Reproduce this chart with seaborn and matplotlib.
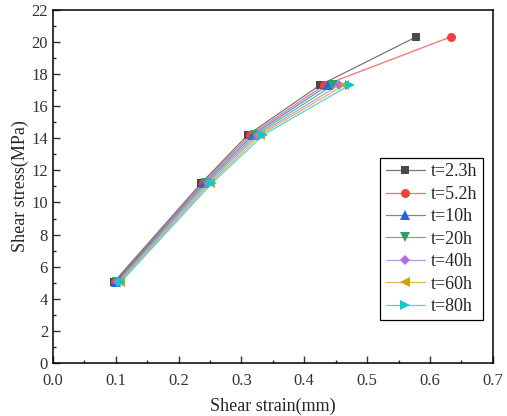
import numpy as np
import pandas as pd
import seaborn as sns
import matplotlib.pyplot as plt
from matplotlib.ticker import MultipleLocator
from matplotlib.colors import to_rgba

# Dados
rotulos = ['t=2.3h', 't=5.2h', 't=10h', 't=20h', 't=40h', 't=60h', 't=80h']
deform = [
    [0.097, 0.236, 0.310, 0.425, 0.578],
    [0.099, 0.238, 0.314, 0.432, 0.633],
    [0.100, 0.241, 0.318, 0.438],
    [0.102, 0.244, 0.322, 0.446],
    [0.104, 0.247, 0.326, 0.455],
    [0.106, 0.250, 0.330, 0.463],
    [0.108, 0.253, 0.335, 0.472],
]
tensao = [
    [5.05, 11.2, 14.2, 17.3, 20.3],
    [5.05, 11.2, 14.2, 17.3, 20.3],
    [5.05, 11.2, 14.2, 17.3],
    [5.05, 11.2, 14.2, 17.3],
    [5.05, 11.2, 14.2, 17.3],
    [5.05, 11.2, 14.2, 17.3],
    [5.05, 11.2, 14.2, 17.3],
]
cores = ['#4a4a4a', '#f04040', '#1f66e0', '#2ea06a', '#b070e0', '#d4a010', '#10c8d0']
marcadores = ['s', 'o', '^', 'v', 'D', '<', '>']
tamanhos = [6, 6.5, 7, 7, 5.5, 7, 7]

# Montar dataframe longo
linhas = []
for rot, xs, ys in zip(rotulos, deform, tensao):
    for i, (x, y) in enumerate(zip(xs, ys)):
        linhas.append({'t': rot, 'ordem': i, 'strain': x, 'stress': y})
df = pd.DataFrame(linhas)

sns.set_style('ticks')
plt.rcParams['font.family'] = ['Liberation Serif', 'DejaVu Serif']
plt.rcParams['xtick.direction'] = 'in'
plt.rcParams['ytick.direction'] = 'in'

fig = plt.figure(figsize=(5.07, 4.16), dpi=100)
ax = fig.add_axes([0.1045, 0.127, 0.8675, 0.85])

sns.lineplot(data=df, x='strain', y='stress', hue='t', style='t',
             hue_order=rotulos, style_order=rotulos,
             palette=dict(zip(rotulos, cores)), markers=dict(zip(rotulos, marcadores)),
             dashes=False, sort=False, estimator=None, markersize=6,
             markeredgewidth=0, linewidth=0.9, ax=ax)

# Linhas mais claras que os marcadores
def clarear(linha, cor, tam):
    linha.set_color(to_rgba(cor, 0.75))
    linha.set_markerfacecolor(cor)
    linha.set_markeredgecolor(cor)
    linha.set_markersize(tam)

for linha, cor, tam in zip(ax.lines[:len(rotulos)], cores, tamanhos):
    clarear(linha, cor, tam)

handles, labels = ax.get_legend_handles_labels()
for h, cor, tam in zip(handles, cores, tamanhos):
    clarear(h, cor, tam)
leg = ax.legend(handles, labels, loc='upper right', bbox_to_anchor=(0.977, 0.58),
                borderaxespad=0, fontsize=13, labelspacing=0.3, handlelength=2.2,
                handletextpad=0.3, borderpad=0.3, fancybox=False, framealpha=1,
                edgecolor='black')
leg.get_frame().set_linewidth(0.9)

ax.set_xlim(0, 0.7)
ax.set_ylim(0, 22)
ax.xaxis.set_major_locator(MultipleLocator(0.1))
ax.xaxis.set_minor_locator(MultipleLocator(0.05))
ax.yaxis.set_major_locator(MultipleLocator(2))
ax.yaxis.set_minor_locator(MultipleLocator(1))
ax.xaxis.set_major_formatter(lambda v, p: '{:.1f}'.format(v))
ax.tick_params(which='major', length=5, width=1, labelsize=12, colors='#333333', labelcolor='#333333')
ax.tick_params(axis='x', which='major', pad=7)
ax.tick_params(which='minor', length=2.5, width=1)
for s in ax.spines.values():
    s.set_linewidth(1.1)
    s.set_color('black')

ax.set_xlabel('Shear strain(mm)', fontsize=13, labelpad=6)
ax.set_ylabel('Shear stress(MPa)', fontsize=13, labelpad=2)

plt.savefig('out.png', dpi=100)
